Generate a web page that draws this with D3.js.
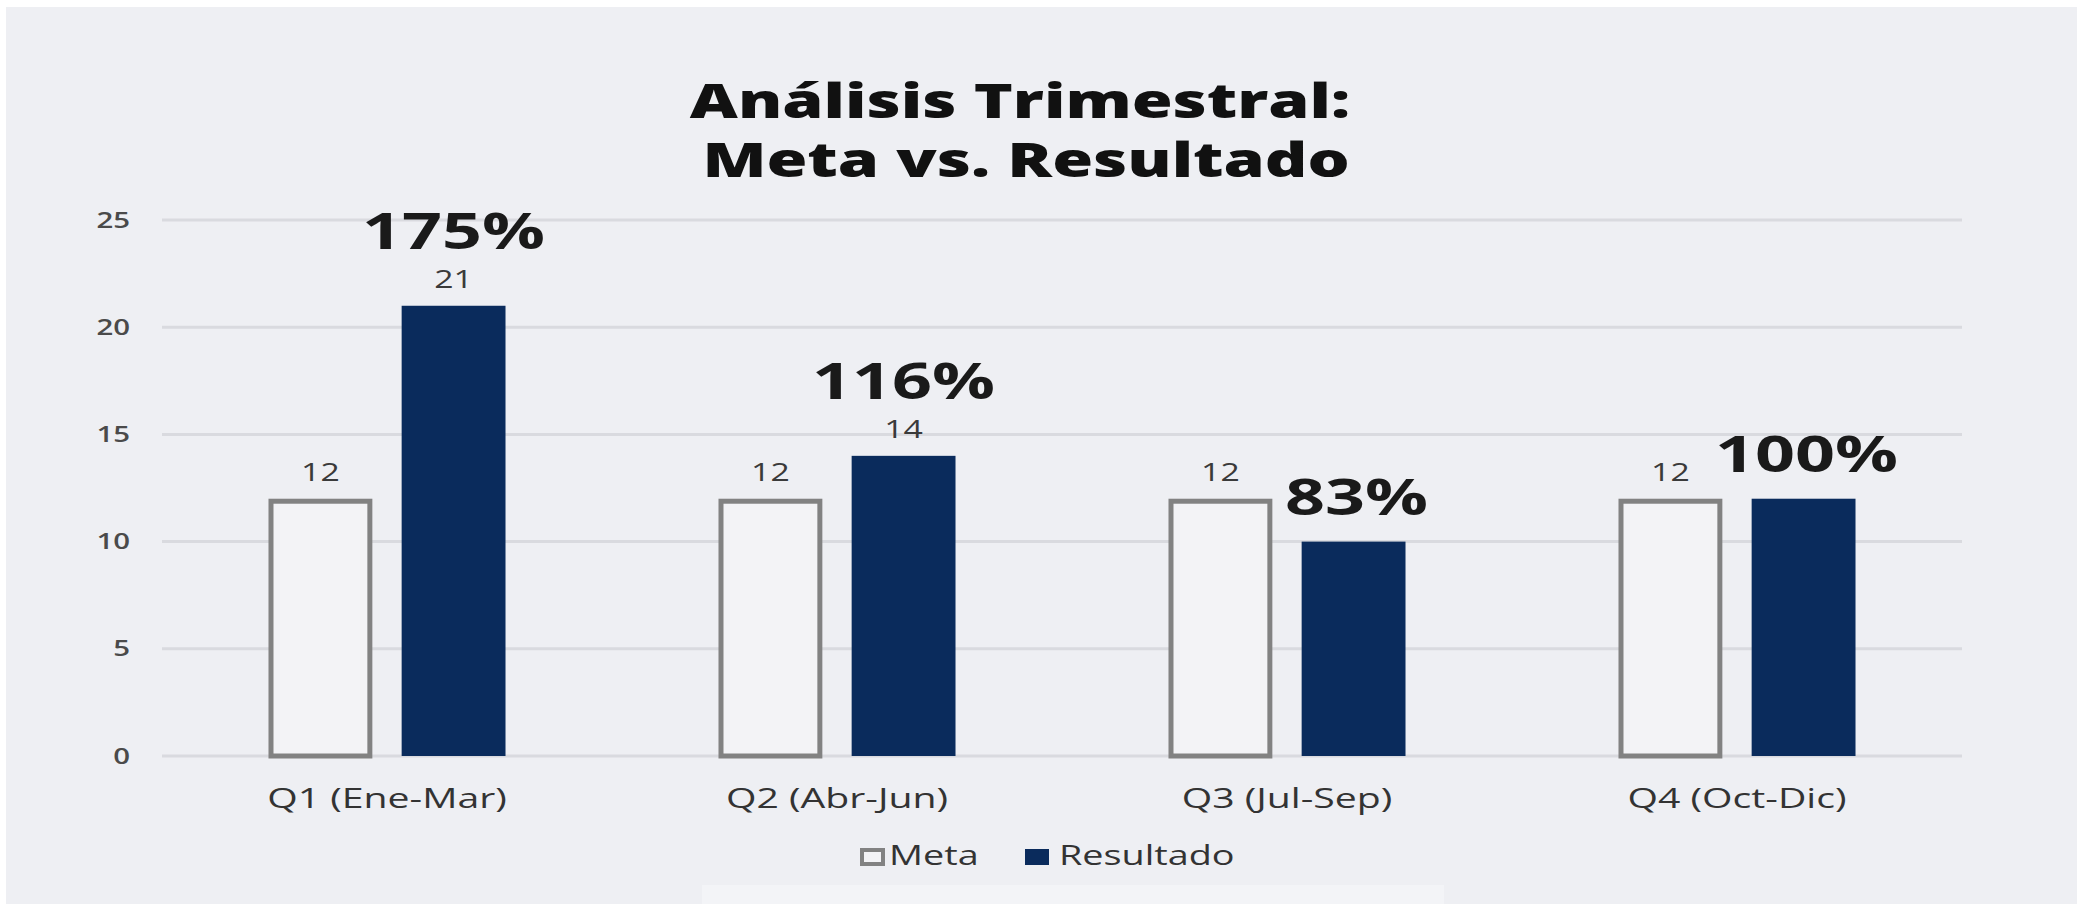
<!DOCTYPE html>
<html>
<head>
<meta charset="utf-8">
<script src="https://cdn.jsdelivr.net/npm/d3@7"></script>
<style>
  html, body { margin: 0; padding: 0; background: #fff; }
  svg { display: block; font-family: "Open Sans", sans-serif; }
</style>
</head>
<body>
<svg id="chart" width="2077" height="904"></svg>
<script>
// data
var trimestres = ["Q1 (Ene-Mar)", "Q2 (Abr-Jun)", "Q3 (Jul-Sep)", "Q4 (Oct-Dic)"];
var meta = [12, 12, 12, 12];
var resultado = [21, 14, 10, 12];
var porcentajes = ["175%", "116%", "83%", "100%"];
var etiquetaResultado = [true, true, false, false]; // only Q1, Q2 show the value
var series = ["Meta", "Resultado"];
var yTicks = [0, 5, 10, 15, 20, 25];

var rows = trimestres.map(function(t, i) {
    return { q: t, Meta: meta[i], Resultado: resultado[i], pct: porcentajes[i], showVal: etiquetaResultado[i] };
});

var W = 2077, H = 904;
var STRETCH = 1.4;   // the picture is stretched sideways, so is the text
var svg = d3.select("#chart");

// background card
svg.append("rect").attr("x", 6).attr("y", 7).attr("width", W - 6).attr("height", H - 7).attr("fill", "#eeeff3");
svg.append("rect").attr("x", 702).attr("y", 885).attr("width", 742).attr("height", 19).attr("fill", "#f3f4f7");

var margin = { left: 162, right: W - 1962, top: 220, bottom: H - 756 };

var x0 = d3.scaleBand()
    .domain(trimestres)
    .range([margin.left, W - margin.right])
    .paddingInner(0.4733)
    .paddingOuter(0.4733 / 2);

var x1 = d3.scaleBand()
    .domain(series)
    .range([0, x0.bandwidth()])
    .paddingInner(0.22);

var y = d3.scaleLinear()
    .domain([0, 25])
    .range([H - margin.bottom, margin.top]);

// grid lines
svg.append("g").selectAll("line")
    .data(yTicks)
    .enter().append("line")
    .attr("x1", margin.left)
    .attr("x2", W - margin.right)
    .attr("y1", function(d) { return y(d); })
    .attr("y2", function(d) { return y(d); })
    .attr("stroke", "#d9dadf")
    .attr("stroke-width", 3);

// y tick labels
svg.append("g").selectAll("text")
    .data(yTicks)
    .enter().append("text")
    .attr("transform", function(d) { return "translate(130," + y(d) + ") scale(" + STRETCH + ",1)"; })
    .attr("dy", "0.36em")
    .attr("text-anchor", "end")
    .attr("font-size", 21)
    .attr("font-weight", 600)
    .attr("fill", "#4a4a4a")
    .text(function(d) { return d; });

// bars
var groups = svg.append("g").selectAll("g.grp")
    .data(rows)
    .enter().append("g")
    .attr("class", "grp")
    .attr("transform", function(d) { return "translate(" + x0(d.q) + ",0)"; });

var sw = 5;
groups.append("rect")
    .attr("x", x1("Meta") + sw / 2)
    .attr("y", function(d) { return y(d.Meta) + sw / 2; })
    .attr("width", x1.bandwidth() - sw)
    .attr("height", function(d) { return y(0) - y(d.Meta) - sw / 2; })
    .attr("fill", "#f3f3f6")
    .attr("stroke", "#828282")
    .attr("stroke-width", sw);

groups.append("rect")
    .attr("x", x1("Resultado"))
    .attr("y", function(d) { return y(d.Resultado); })
    .attr("width", x1.bandwidth())
    .attr("height", function(d) { return y(0) - y(d.Resultado); })
    .attr("fill", "#0a2b5c");

// value labels
groups.append("text")
    .attr("transform", function(d) {
        return "translate(" + (x1("Meta") + x1.bandwidth() / 2) + "," + (y(d.Meta) - 18) + ") scale(" + (STRETCH - 0.1) + ",1)";
    })
    .attr("text-anchor", "middle")
    .attr("font-size", 26)
    .attr("fill", "#3a3a3a")
    .text(function(d) { return d.Meta; });

groups.filter(function(d) { return d.showVal; }).append("text")
    .attr("transform", function(d) {
        return "translate(" + (x1("Resultado") + x1.bandwidth() / 2) + "," + (y(d.Resultado) - 18) + ") scale(" + (STRETCH - 0.1) + ",1)";
    })
    .attr("text-anchor", "middle")
    .attr("font-size", 26)
    .attr("fill", "#3a3a3a")
    .text(function(d) { return d.Resultado; });

// big percent labels
groups.append("text")
    .attr("transform", function(d) {
        var off = d.showVal ? 57 : 27;
        return "translate(" + (x1("Resultado") + x1.bandwidth() / 2 + (d.showVal ? 0 : 3)) + "," + (y(d.Resultado) - off) + ") scale(" + STRETCH + ",1)";
    })
    .attr("text-anchor", "middle")
    .attr("font-size", 50)
    .attr("font-weight", 700)
    .attr("fill", "#1a1a1a")
    .text(function(d) { return d.pct; });

// x axis labels
svg.append("g").selectAll("text")
    .data(trimestres)
    .enter().append("text")
    .attr("transform", function(d) { return "translate(" + (x0(d) + x0.bandwidth() / 2) + ",808) scale(" + STRETCH + ",1)"; })
    .attr("text-anchor", "middle")
    .attr("font-size", 28)
    .attr("fill", "#333")
    .text(function(d) { return d; });

// title, two lines
svg.append("text")
    .attr("transform", "translate(1020,118) scale(1.38,1)")
    .attr("text-anchor", "middle")
    .attr("font-size", 48)
    .attr("font-weight", 800)
    .attr("fill", "#111")
    .text("Análisis Trimestral:");
svg.append("text")
    .attr("transform", "translate(1026,177) scale(1.38,1)")
    .attr("text-anchor", "middle")
    .attr("font-size", 48)
    .attr("font-weight", 800)
    .attr("fill", "#111")
    .text("Meta vs. Resultado");

// legend
var legend = svg.append("g").attr("transform", "translate(860,848)");
legend.append("rect").attr("x", 2).attr("y", 2).attr("width", 21).attr("height", 14)
    .attr("fill", "#f3f3f6").attr("stroke", "#828282").attr("stroke-width", 4);
legend.append("text").attr("transform", "translate(29,17) scale(" + STRETCH + ",1)")
    .attr("font-size", 27).attr("fill", "#333").text(series[0]);
legend.append("rect").attr("x", 165).attr("y", 1).attr("width", 24).attr("height", 16)
    .attr("fill", "#0a2b5c");
legend.append("text").attr("transform", "translate(199,17) scale(" + STRETCH + ",1)")
    .attr("font-size", 27).attr("fill", "#333").text(series[1]);
</script>
</body>
</html>
